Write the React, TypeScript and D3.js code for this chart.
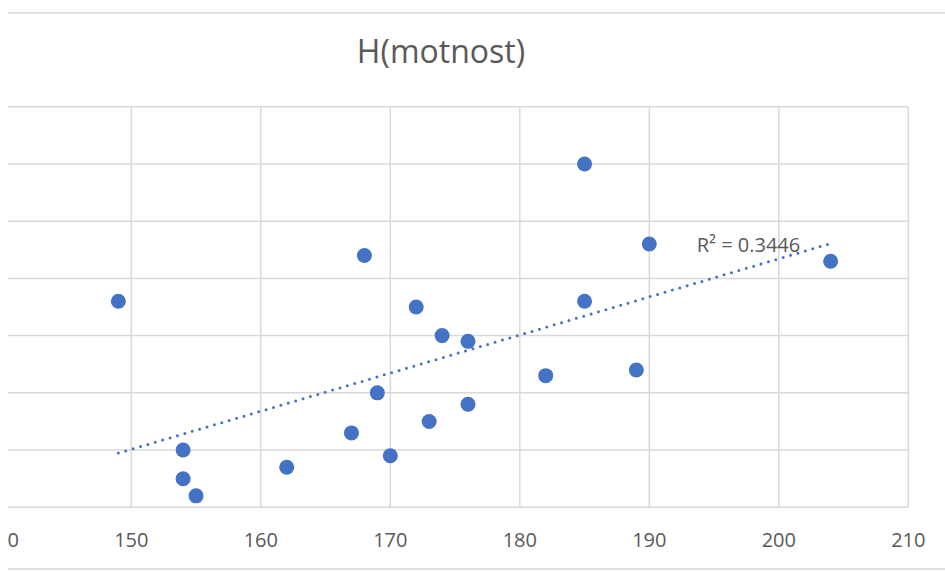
import React from "react";
import * as d3 from "d3";

const title = "H(motnost)";
const xValues = [149, 154, 154, 155, 162, 167, 168, 169, 170, 172, 173, 174, 176, 176, 182, 185, 185, 189, 190, 204];
const yValues = [76, 50, 45, 42, 47, 53, 84, 60, 49, 75, 55, 70, 69, 58, 63, 100, 76, 64, 86, 83];
const xTicks = [140, 150, 160, 170, 180, 190, 200, 210];
const yTicks = [40, 50, 60, 70, 80, 90, 100, 110];
const r2Label = "R² = 0.3446";

export default function App() {
  const W = 945, H = 572;
  const x = d3.scaleLinear().domain([140, 210]).range([1.8, 908.3]);
  const y = d3.scaleLinear().domain([40, 110]).range([507.3, 106.7]);
  const n = xValues.length;
  const mx = d3.mean(xValues)!;
  const my = d3.mean(yValues)!;
  let sxy = 0, sxx = 0;
  for (let i = 0; i < n; i++) {
    sxy += (xValues[i] - mx) * (yValues[i] - my);
    sxx += (xValues[i] - mx) ** 2;
  }
  const slope = sxy / sxx;
  const intercept = my - slope * mx;
  const x0 = d3.min(xValues)!, x1 = d3.max(xValues)!;
  const line = d3.line<number>().x((d) => x(d)).y((d) => y(intercept + slope * d));
  const grid = "#d9d9d9";
  const font = "'Open Sans', sans-serif";
  return (
    <svg width={W} height={H} style={{ position: "absolute", left: 0, top: 0, background: "#fff" }}>
      <defs>
        <clipPath id="clip">
          <rect x={8} y={0} width={W - 8} height={H} />
        </clipPath>
      </defs>
      <g clipPath="url(#clip)">
        <line x1={8} x2={W} y1={13} y2={13} stroke={grid} strokeWidth={1.5} />
        <line x1={8} x2={W} y1={569} y2={569} stroke={grid} strokeWidth={1.5} />
        {yTicks.map((t) => (
          <line key={"h" + t} x1={x(140)} x2={x(210)} y1={y(t)} y2={y(t)} stroke={grid} strokeWidth={1.5} />
        ))}
        {xTicks.map((t) => (
          <line key={"v" + t} x1={x(t)} x2={x(t)} y1={y(40)} y2={y(110)} stroke={grid} strokeWidth={1.5} />
        ))}
        {xTicks.map((t) => (
          <text key={"t" + t} x={x(t)} y={546.5} textAnchor="middle" fontFamily={font} fontSize={20} fill="#595959">
            {t}
          </text>
        ))}
        <text x={441} y={63.3} textAnchor="middle" fontFamily={font} fontSize={32} fill="#595959">
          {title}
        </text>
        {xValues.map((xv, i) => (
          <circle key={"p" + i} cx={x(xv)} cy={y(yValues[i])} r={7.5} fill="#4472C4" />
        ))}
        <path
          d={line([x0, x1])!}
          fill="none"
          stroke="#4472C4"
          strokeWidth={3}
          strokeDasharray="0 7.7"
          strokeLinecap="round"
        />
        <text x={696.7} y={252.3} fontFamily={font} fontSize={20} fill="#595959">
          {r2Label}
        </text>
      </g>
    </svg>
  );
}
